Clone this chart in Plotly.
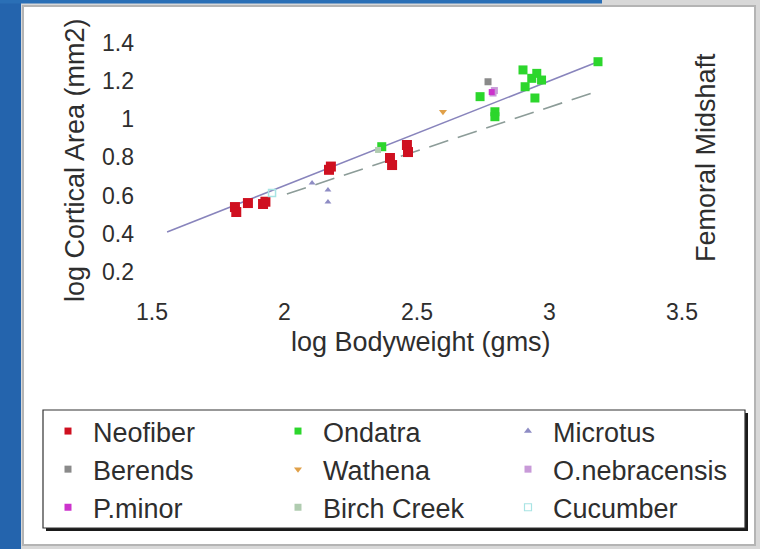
import plotly.graph_objects as go

# ---------------- data ----------------
neofiber_x = [1.813, 1.818, 1.862, 1.919, 1.928, 2.168, 2.175, 2.398, 2.406, 2.462, 2.466]
neofiber_y = [0.540, 0.514, 0.561, 0.556, 0.568, 0.735, 0.752, 0.797, 0.760, 0.865, 0.828]

ondatra_x = [2.367, 2.738, 2.794, 2.794, 2.900, 2.908, 2.933, 2.952, 2.970, 2.945, 3.183]
ondatra_y = [0.856, 1.118, 1.039, 1.013, 1.258, 1.170, 1.214, 1.240, 1.205, 1.111, 1.301]

microtus_x = [2.104, 2.164, 2.164]
microtus_y = [0.666, 0.629, 0.566]

berends_x = [2.768]
berends_y = [1.196]

wathena_x = [2.598]
wathena_y = [1.039]

onebr_x = [2.787, 2.792]
onebr_y = [1.137, 1.150]

pminor_x = [2.782]
pminor_y = [1.142]

birch_x = [2.353]
birch_y = [0.839]

cucumber_x = [1.953]
cucumber_y = [0.614]

fit_solid_x = [1.557, 3.183]
fit_solid_y = [0.409, 1.301]
fit_dash_x = [2.009, 3.160]
fit_dash_y = [0.608, 1.137]

x_ticks = [1.5, 2, 2.5, 3, 3.5]
y_ticks = [0.2, 0.4, 0.6, 0.8, 1.0, 1.2, 1.4]

# ---------------- layout geometry ----------------
W, H = 760, 549
L, R, T, B = 138, 48, 30, 259
PW, PH = W - L - R, H - T - B


def px(xp):
    return (xp - L) / PW


def py(yp):
    return (H - B - yp) / PH


FONT = "Liberation Sans, Arial, sans-serif"
TXT = "#2e2e2e"

fig = go.Figure()

# regression lines
fig.add_trace(go.Scatter(x=fit_solid_x, y=fit_solid_y, mode="lines",
                         line=dict(color="#8884bc", width=1.6), showlegend=False, hoverinfo="skip"))
fig.add_trace(go.Scatter(x=fit_dash_x, y=fit_dash_y, mode="lines",
                         line=dict(color="#8c9c98", width=1.6, dash="20px,10px"), showlegend=False,
                         hoverinfo="skip"))

series = [
    ("Neofiber", neofiber_x, neofiber_y, "#cf1020", "square", 10),
    ("Ondatra", ondatra_x, ondatra_y, "#2cd62c", "square", 9),
    ("Microtus", microtus_x, microtus_y, "#8e8cc4", "triangle-up", 6),
    ("Berends", berends_x, berends_y, "#8a8a8a", "square", 7),
    ("Wathena", wathena_x, wathena_y, "#e0a048", "triangle-down", 7),
    ("O.nebracensis", onebr_x, onebr_y, "#c89ad8", "square", 7),
    ("P.minor", pminor_x, pminor_y, "#cc33cc", "square", 6),
    ("Birch Creek", birch_x, birch_y, "#b0ccb0", "square", 6),
    ("Cucumber", cucumber_x, cucumber_y, "#a8e4e4", "square-open", 7),
]
for name, xs, ys, col, sym, sz in series:
    mline = dict(width=1.5, color=col) if "open" in sym else dict(width=0)
    fig.add_trace(go.Scatter(x=xs, y=ys, mode="markers", name=name, showlegend=False,
                             marker=dict(color=col, symbol=sym, size=sz, line=mline)))
# legend entries (small swatches, as in the original legend)
for name, xs, ys, col, sym, sz in series:
    mline = dict(width=1.2, color=col) if "open" in sym else dict(width=0)
    fig.add_trace(go.Scatter(x=[None], y=[None], mode="markers", name=name,
                             marker=dict(color=col, symbol=sym, size=7, line=mline)))

shapes = []
# blue slide background pieces and chart frame
shapes.append(dict(type="rect", xref="paper", yref="paper", x0=px(0), x1=px(21), y0=py(0), y1=py(H),
                   fillcolor="#2464ad", line=dict(width=0), layer="below"))
shapes.append(dict(type="rect", xref="paper", yref="paper", x0=px(0), x1=px(602), y0=py(0), y1=py(3.5),
                   fillcolor="#2a6fb6", line=dict(width=0), layer="below"))
shapes.append(dict(type="rect", xref="paper", yref="paper", x0=px(23), x1=px(755), y0=py(6), y1=py(545),
                   fillcolor="white", line=dict(color="#b4b4b4", width=2), layer="below"))
# legend shadow and box
shapes.append(dict(type="rect", xref="paper", yref="paper", x0=px(46), x1=px(748), y0=py(413), y1=py(531),
                   fillcolor="#1a1a1a", line=dict(width=0), layer="below"))
shapes.append(dict(type="rect", xref="paper", yref="paper", x0=px(43), x1=px(745), y0=py(410), y1=py(528),
                   fillcolor="white", line=dict(color="#333333", width=1.2), layer="below"))

annotations = [
    dict(text="log Cortical Area (mm2)", x=px(75), y=py(160), xref="paper", yref="paper",
         textangle=-90, showarrow=False, font=dict(size=27, color=TXT, family=FONT),
         xanchor="center", yanchor="middle"),
    dict(text="log Bodyweight (gms)", x=px(421), y=py(342), xref="paper", yref="paper",
         showarrow=False, font=dict(size=27, color=TXT, family=FONT),
         xanchor="center", yanchor="middle"),
    dict(text="Femoral Midshaft", x=px(706), y=py(158), xref="paper", yref="paper",
         textangle=-90, showarrow=False, font=dict(size=27, color=TXT, family=FONT),
         xanchor="center", yanchor="middle"),
]

x_min = 1.5 + (L - 152) / 265
x_max = 1.5 + (W - R - 152) / 265
y_max = 0.2 + (272 - T) / 191
y_min = 0.2 + (272 - (H - B)) / 191

fig.update_layout(
    width=W, height=H,
    margin=dict(l=L, r=R, t=T, b=B, autoexpand=False),
    paper_bgcolor="#d8d8d8",
    plot_bgcolor="rgba(0,0,0,0)",
    font=dict(family=FONT, size=23, color=TXT),
    shapes=shapes,
    annotations=annotations,
    showlegend=True,
    legend=dict(orientation="h", x=px(43), y=py(407), xanchor="left", yanchor="top",
                bgcolor="rgba(0,0,0,0)", borderwidth=0,
                entrywidth=175, entrywidthmode="pixels", itemwidth=40,
                font=dict(size=27, color=TXT, family=FONT), tracegroupgap=0),
    xaxis=dict(range=[x_min, x_max], tickmode="array", tickvals=x_ticks,
               ticktext=[("%g" % v) for v in x_ticks],
               showgrid=False, zeroline=False, showline=False, ticks="", ticklabelstandoff=6),
    yaxis=dict(range=[y_min, y_max], tickmode="array", tickvals=y_ticks,
               ticktext=[("%g" % v) for v in y_ticks],
               showgrid=False, zeroline=False, showline=False, ticks="", ticklabelstandoff=3),
)

fig.write_html("out.html")
